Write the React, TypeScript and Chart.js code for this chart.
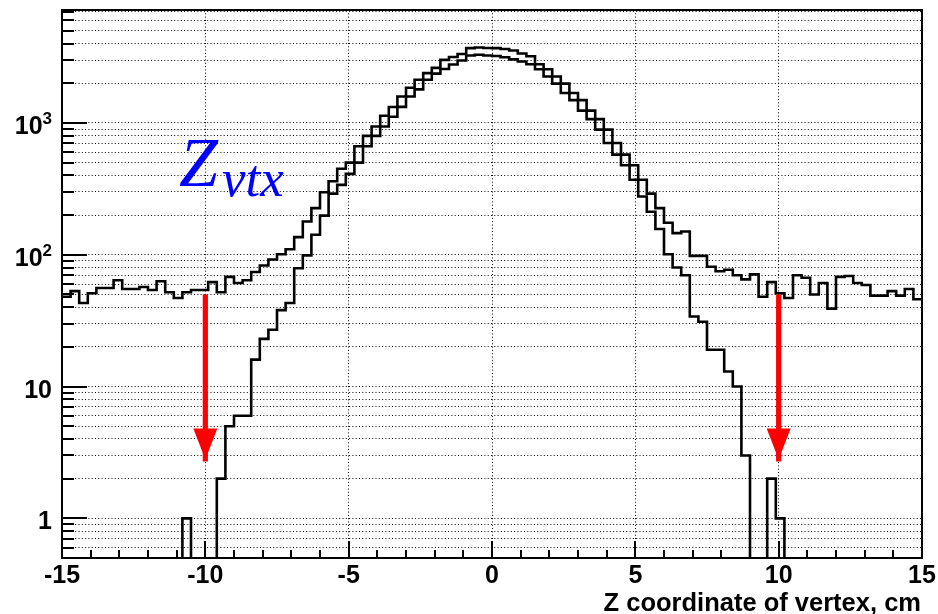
import React, { useEffect, useRef } from 'react';
import { Chart, registerables } from 'chart.js';

Chart.register(...registerables);

// ---- histogram binning ----
const BIN_LOW = -15;
const BIN_WIDTH = 0.3;
const X_RANGE = [-15, 15];
const Y_RANGE = [0.5, 7200];
const ZERO_FLOOR = 0.01; // empty bins are sent below the axis so the outline drops to the frame

// all reconstructed vertices (wide histogram), 100 bins of 0.3 cm
const allVertexCounts = [
  48, 53, 43, 51, 56, 56, 64, 55, 55, 57,
  54, 63, 52, 47, 52, 54, 54, 62, 52, 68,
  61, 64, 74, 83, 92, 101, 110, 136, 179, 226,
  298, 361, 450, 500, 666, 798, 940, 1136, 1323, 1588,
  1850, 2126, 2390, 2620, 3010, 3170, 3340, 3700, 3740, 3705,
  3700, 3640, 3550, 3370, 3210, 2790, 2560, 2250, 1990, 1690,
  1490, 1240, 1070, 890, 705, 575, 478, 371, 291, 226,
  175, 146, 150, 98, 98, 81, 75, 77, 70, 65,
  71, 48, 62, 51, 47, 70, 67, 50, 61, 39,
  68, 69, 61, 59, 49, 49, 53, 49, 55, 46,
];

// selected vertices (narrow histogram)
const selectedVertexCounts = [
  0, 0, 0, 0, 0, 0, 0, 0, 0, 0,
  0, 0, 0, 0, 1, 0, 0, 0, 2, 5,
  6, 6, 16, 23, 27, 38, 43, 79, 99, 142,
  198, 291, 339, 411, 500, 666, 798, 940, 1115, 1325,
  1588, 1800, 2126, 2370, 2570, 2780, 2980, 3250, 3290, 3250,
  3220, 3150, 3040, 2930, 2790, 2560, 2250, 1990, 1690, 1490,
  1240, 1070, 890, 705, 575, 478, 371, 277, 212, 157,
  101, 80, 70, 34, 31, 19, 19, 13, 10, 3,
  0, 0, 2, 1, 0, 0, 0, 0, 0, 0,
  0, 0, 0, 0, 0, 0, 0, 0, 0, 0,
];

// ---- axes ----
const xMajorTicks = [-15, -10, -5, 0, 5, 10, 15];
const xTickLabels = ['-15', '-10', '-5', '0', '5', '10', '15'];
const xMinorTicks = [-14, -13, -12, -11, -9, -8, -7, -6, -4, -3, -2, -1, 1, 2, 3, 4, 6, 7, 8, 9, 11, 12, 13, 14];
const yGridValues = [
  0.6, 0.7, 0.8, 0.9,
  1, 2, 3, 4, 5, 6, 7, 8, 9,
  10, 20, 30, 40, 50, 60, 70, 80, 90,
  100, 200, 300, 400, 500, 600, 700, 800, 900,
  1000, 2000, 3000, 4000, 5000, 6000, 7000,
];
const yDecades = [1, 10, 100, 1000];
const yLabelBase = ['1', '10', '10', '10'];
const yLabelExp = ['', '', '2', '3'];
const xAxisTitle = 'Z coordinate of vertex, cm';

// ---- annotations ----
const cutPositions = [-10, 10];
const cutArrowFrom = 50;
const cutArrowTo = 2.7;
const labelMain = 'Z';
const labelSub = 'vtx';
const labelAnchorX = -10.92;
const labelAnchorY = 330;

const FONT = '"Liberation Sans", Arial, Helvetica, sans-serif';
const SERIF = '"Liberation Serif", "Times New Roman", serif';

function toSteps(values: number[]) {
  const pts = values.map((v, i) => ({ x: BIN_LOW + i * BIN_WIDTH, y: v > 0 ? v : ZERO_FLOOR }));
  const last = values[values.length - 1];
  pts.push({ x: BIN_LOW + values.length * BIN_WIDTH, y: last > 0 ? last : ZERO_FLOOR });
  return pts;
}

const rootStyle = {
  id: 'rootStyle',
  beforeDraw(chart: any) {
    const { ctx, width, height } = chart;
    ctx.save();
    ctx.fillStyle = '#ffffff';
    ctx.fillRect(0, 0, width, height);
    ctx.restore();
  },
  afterDraw(chart: any) {
    const { ctx, chartArea: a, scales } = chart;
    const xs = scales.x;
    const ys = scales.y;
    ctx.save();

    // red cut arrows
    ctx.fillStyle = '#ff0000';
    cutPositions.forEach((c) => {
      const px = xs.getPixelForValue(c);
      const y0 = ys.getPixelForValue(cutArrowFrom);
      const y1 = ys.getPixelForValue(cutArrowTo);
      ctx.fillRect(px - 2.6, y0, 5.2, y1 - y0);
      ctx.beginPath();
      ctx.moveTo(px - 12, y1 - 33);
      ctx.lineTo(px + 12, y1 - 33);
      ctx.lineTo(px, y1 - 2);
      ctx.closePath();
      ctx.fill();
    });

    // frame
    ctx.strokeStyle = '#000000';
    ctx.lineWidth = 2;
    ctx.strokeRect(a.left, a.top, a.right - a.left, a.bottom - a.top);

    // inward tick marks
    ctx.beginPath();
    yGridValues.forEach((v) => {
      const py = Math.round(ys.getPixelForValue(v));
      const len = yDecades.includes(v) ? 25 : 12;
      ctx.moveTo(a.left, py);
      ctx.lineTo(a.left + len, py);
    });
    xMajorTicks.forEach((v) => {
      const px = Math.round(xs.getPixelForValue(v));
      ctx.moveTo(px, a.bottom);
      ctx.lineTo(px, a.bottom - 17);
    });
    xMinorTicks.forEach((v) => {
      const px = Math.round(xs.getPixelForValue(v));
      ctx.moveTo(px, a.bottom);
      ctx.lineTo(px, a.bottom - 8);
    });
    ctx.stroke();

    // tick labels
    ctx.fillStyle = '#000000';
    ctx.textBaseline = 'alphabetic';
    ctx.textAlign = 'right';
    yDecades.forEach((v, i) => {
      const py = ys.getPixelForValue(v);
      let right = a.left - 10;
      if (yLabelExp[i]) {
        ctx.font = `bold 17px ${FONT}`;
        ctx.fillText(yLabelExp[i], right, py + 1);
        right -= ctx.measureText(yLabelExp[i]).width;
      }
      ctx.font = `bold 25px ${FONT}`;
      ctx.fillText(yLabelBase[i], right, py + 11);
    });
    ctx.textAlign = 'center';
    ctx.font = `bold 25px ${FONT}`;
    xMajorTicks.forEach((v, i) => {
      ctx.fillText(xTickLabels[i], xs.getPixelForValue(v), a.bottom + 25);
    });

    // axis title
    ctx.textAlign = 'right';
    ctx.font = `bold 25.5px ${FONT}`;
    ctx.fillText(xAxisTitle, a.right - 1, a.bottom + 53);

    // Z_vtx label
    const lx = xs.getPixelForValue(labelAnchorX);
    const ly = ys.getPixelForValue(labelAnchorY);
    ctx.fillStyle = '#0000ff';
    ctx.textAlign = 'left';
    ctx.font = `italic 70px ${SERIF}`;
    ctx.fillText(labelMain, lx, ly);
    ctx.font = `italic 53px ${SERIF}`;
    ctx.fillText(labelSub, lx + 43, ly + 10);

    ctx.restore();
  },
};

export default function App() {
  const ref = useRef<HTMLCanvasElement>(null);

  useEffect(() => {
    const canvas = ref.current;
    if (!canvas) return;
    const lineStyle = {
      borderColor: '#000000',
      borderWidth: 2.6,
      pointRadius: 0,
      pointHoverRadius: 0,
      fill: false,
      stepped: 'before' as const,
      tension: 0,
      clip: 0,
    };
    const chart = new Chart(canvas, {
      type: 'line',
      data: {
        datasets: [
          { label: 'all vertices', data: toSteps(allVertexCounts), ...lineStyle },
          { label: 'selected vertices', data: toSteps(selectedVertexCounts), ...lineStyle },
        ],
      },
      options: {
        responsive: false,
        animation: false,
        devicePixelRatio: 1,
        events: [],
        layout: { padding: { left: 0, top: 10, right: 16, bottom: 0 } },
        plugins: { legend: { display: false }, tooltip: { enabled: false }, title: { display: false } },
        scales: {
          x: {
            type: 'linear',
            min: X_RANGE[0],
            max: X_RANGE[1],
            bounds: 'data',
            afterBuildTicks: (s: any) => {
              s.ticks = xMajorTicks.map((v) => ({ value: v }));
            },
            afterFit: (s: any) => {
              s.height = 56;
            },
            grid: { color: '#000000', lineWidth: 1, drawTicks: false },
            border: { display: false, dash: [1, 2.3] },
            ticks: { display: false },
          },
          y: {
            type: 'logarithmic',
            min: Y_RANGE[0],
            max: Y_RANGE[1],
            bounds: 'data',
            afterBuildTicks: (s: any) => {
              s.ticks = yGridValues.map((v) => ({ value: v }));
            },
            afterFit: (s: any) => {
              s.width = 62;
            },
            grid: { color: '#000000', lineWidth: 1, drawTicks: false },
            border: { display: false, dash: [1, 2.3] },
            ticks: { display: false },
          },
        },
      } as any,
      plugins: [rootStyle],
    });
    return () => chart.destroy();
  }, []);

  return (
    <div style={{ position: 'absolute', left: 0, top: 0, width: 938, height: 614, background: '#ffffff' }}>
      <canvas ref={ref} width={938} height={614} style={{ display: 'block' }} />
    </div>
  );
}
